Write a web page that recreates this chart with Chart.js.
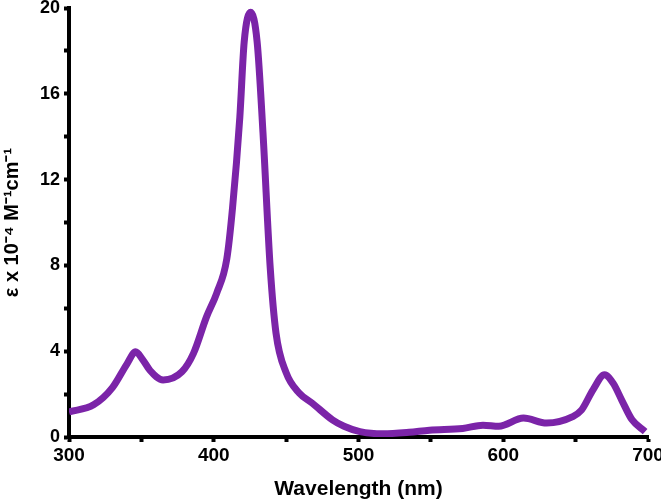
<!DOCTYPE html>
<html>
<head>
<meta charset="utf-8">
<script src="https://cdn.jsdelivr.net/npm/chart.js@4"></script>
<style>
  html, body { margin: 0; padding: 0; background: #fff; }
  #wrap { width: 661px; height: 502px; }
</style>
</head>
<body>
<div id="wrap"><canvas id="spectrum"></canvas></div>
<script>
// absorption spectrum
const wavelength = [300, 317, 330, 340, 346, 351, 356, 365, 378, 386, 395, 402, 409, 413, 418, 421, 425.5, 430, 434, 439, 443, 450, 459, 468, 482, 490, 501, 517, 535, 549, 572, 586, 597, 614, 630, 648, 654, 662, 670, 676, 682, 689, 698];
const epsilon = [1.17, 1.5, 2.3, 3.4, 3.97, 3.6, 3.1, 2.66, 3.04, 3.9, 5.6, 6.7, 8.3, 10.7, 14.9, 18.4, 19.8, 18.4, 14.2, 7.9, 4.85, 3.0, 2.05, 1.58, 0.8, 0.5, 0.25, 0.15, 0.22, 0.32, 0.4, 0.55, 0.5, 0.88, 0.65, 0.95, 1.25, 2.2, 2.9, 2.5, 1.7, 0.8, 0.25];
const xTicks = [300, 400, 500, 600, 700];
const yTicks = [0, 4, 8, 12, 16, 20];

const font = { family: "'Liberation Sans', Arial, sans-serif", weight: "bold" };

document.addEventListener("DOMContentLoaded", function () {
    const ctx = document.getElementById("spectrum").getContext("2d");
    new Chart(ctx, {
        type: "line",
        data: {
            datasets: [{
                data: wavelength.map((w, i) => ({ x: w, y: epsilon[i] })),
                borderColor: "#7b24a8",
                borderWidth: 7,
                pointRadius: 0,
                cubicInterpolationMode: "monotone",
                fill: false,
            }],
        },
        options: {
            responsive: true,
            maintainAspectRatio: false,
            animation: false,
            layout: { padding: 0 },
            plugins: {
                legend: { display: false },
                tooltip: { enabled: false },
            },
            scales: {
                x: {
                    type: "linear",
                    min: 300,
                    max: 700,
                    border: { color: "#000", width: 4 },
                    grid: { drawOnChartArea: false, tickColor: "#000", tickLength: 5, tickWidth: 4 },
                    ticks: {
                        stepSize: 50,
                        autoSkip: false,
                        maxRotation: 0,
                        padding: 2,
                        color: "#000",
                        font: { ...font, size: 19 },
                        callback: (v) => (xTicks.includes(v) ? String(v) : ""),
                    },
                    title: {
                        display: true,
                        text: "Wavelength (nm)",
                        color: "#000",
                        font: { ...font, size: 21 },
                        padding: { top: 8, bottom: 0 },
                    },
                    afterFit: (scale) => {
                        scale.height = 65;
                        scale.paddingRight = 13;
                        scale.paddingLeft = 0;
                    },
                },
                y: {
                    min: 0,
                    max: 20,
                    border: { color: "#000", width: 4 },
                    grid: { drawOnChartArea: false, tickColor: "#000", tickLength: 5, tickWidth: 4 },
                    ticks: {
                        stepSize: 2,
                        autoSkip: false,
                        padding: 4,
                        color: "#000",
                        font: { ...font, size: 18 },
                        callback: (v) => (yTicks.includes(v) ? String(v) : ""),
                    },
                    title: {
                        display: true,
                        text: "\u03b5 x 10\u207b\u2074 M\u207b\u00b9cm\u207b\u00b9",
                        color: "#000",
                        font: { ...font, size: 20 },
                        padding: { top: 0, bottom: 4 },
                    },
                    afterFit: (scale) => {
                        scale.width = 69;
                        scale.paddingTop = 8;
                        scale.paddingBottom = 0;
                    },
                },
            },
        },
    });
});
</script>
</body>
</html>
